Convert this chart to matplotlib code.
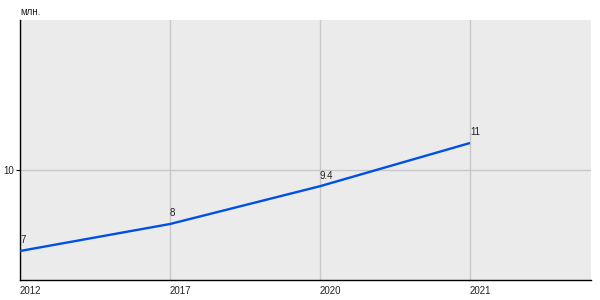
import matplotlib
matplotlib.use("Agg")
import matplotlib.pyplot as plt

years = ["2012", "2017", "2020", "2021"]
values = [7, 8, 9.4, 11]
value_labels = ["7", "8", "9.4", "11"]
y_ticks = [10]
unit = "млн."

plt.rcParams['font.family'] = ['Liberation Sans', 'DejaVu Sans']

fig = plt.figure(figsize=(6, 3), dpi=100)
ax = fig.add_axes([20/600, 20/300, 571/600, 260/300])
ax.set_facecolor("#EBEBEB")

x = list(range(len(years)))
ax.plot(x, values, color="#0050E6", lw=1.7, zorder=3, solid_capstyle="butt")
for xi, v, lab in zip(x, values, value_labels):
    ax.annotate(lab, (xi, v), xytext=(0, 4), textcoords="offset points",
                ha="left", va="bottom", fontsize=7, color="#222222", zorder=4)

ax.set_xlim(0, 571/150)
ax.set_ylim(10 - 110/27, 10 + 150/27)
ax.set_xticks(x)
ax.set_xticklabels(years)
ax.set_yticks(y_ticks)
ax.set_yticklabels([str(t) for t in y_ticks])
ax.grid(True, color="#C8C8C8", lw=1, zorder=1)
ax.set_axisbelow(True)
for s in ["top", "right"]:
    ax.spines[s].set_visible(False)
for s in ["left", "bottom"]:
    ax.spines[s].set_color("black")
    ax.spines[s].set_linewidth(1)
ax.tick_params(axis="x", length=0, pad=4, labelsize=7, labelcolor="#222222")
ax.tick_params(axis="y", length=3, pad=1, labelsize=7, labelcolor="#222222")
for lbl in ax.get_xticklabels():
    lbl.set_horizontalalignment("left")

fig.text(20/600, 1 - 12/300, unit, fontsize=7, color="#222222", ha="left", va="center")

fig.savefig("out.png", dpi=100)
